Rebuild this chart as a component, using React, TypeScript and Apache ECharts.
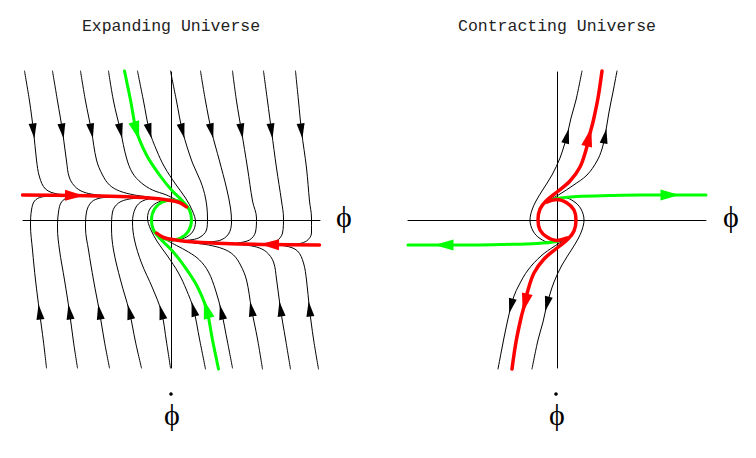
import React, { useEffect, useRef } from "react";
import * as echarts from "echarts";

// ---------- Expanding Universe (left panel): x = phi, y = phi-dot ----------
// trajectories entering from the top (arrow pointing down)
const expT1 = [[-2.94, 2.98], [-2.84, 2.38], [-2.76, 1.78], [-2.70, 1.20], [-2.64, 0.86], [-2.52, 0.62], [-2.28, 0.52], [-1.84, 0.49]];
const expT2 = [[-2.38, 2.98], [-2.28, 2.38], [-2.18, 1.78], [-2.10, 1.18], [-2.04, 0.84], [-1.90, 0.64], [-1.70, 0.54], [-1.38, 0.49]];
const expT3 = [[-1.82, 2.98], [-1.72, 2.38], [-1.60, 1.78], [-1.50, 1.20], [-1.38, 0.90], [-1.24, 0.70], [-1.04, 0.58], [-0.74, 0.50], [-0.44, 0.46]];
const expT4 = [[-1.26, 2.98], [-1.16, 2.38], [-1.02, 1.78], [-0.90, 1.24], [-0.78, 0.94], [-0.60, 0.74], [-0.38, 0.60], [-0.10, 0.50], [0.16, 0.37]];
const expT5 = [[-0.68, 2.98], [-0.56, 2.38], [-0.44, 1.78], [-0.30, 1.40], [-0.14, 1.06], [0.08, 0.72], [0.28, 0.44], [0.42, 0.18], [0.48, -0.04], [0.42, -0.24], [0.26, -0.36], [0.02, -0.42]];
const expT6 = [[-0.02, 2.98], [0.10, 2.38], [0.22, 1.78], [0.42, 1.14], [0.58, 0.78], [0.68, 0.44], [0.72, 0.04], [0.70, -0.20], [0.54, -0.36], [0.26, -0.41]];
const expT7 = [[0.58, 2.98], [0.68, 2.38], [0.80, 1.78], [0.96, 1.18], [1.10, 0.64], [1.18, 0.24], [1.20, -0.04], [1.14, -0.28], [0.96, -0.41], [0.66, -0.44]];
const expT8 = [[1.22, 2.98], [1.30, 2.38], [1.40, 1.78], [1.52, 1.04], [1.62, 0.38], [1.70, 0.04], [1.68, -0.24], [1.56, -0.40], [1.32, -0.46]];
const expT9 = [[1.84, 2.98], [1.92, 2.38], [2.00, 1.78], [2.10, 1.04], [2.20, 0.38], [2.24, 0.04], [2.22, -0.26], [2.10, -0.42], [1.86, -0.48]];
const expT10 = [[2.48, 2.98], [2.54, 2.38], [2.60, 1.78], [2.70, 1.04], [2.76, 0.38], [2.80, 0.04], [2.80, -0.26], [2.70, -0.42], [2.48, -0.49]];
// trajectories entering from the bottom (arrow pointing up)
const expB1 = [[-2.50, -2.96], [-2.56, -2.44], [-2.64, -1.84], [-2.72, -1.20], [-2.78, -0.60], [-2.82, -0.10], [-2.80, 0.20], [-2.74, 0.38], [-2.60, 0.46], [-2.34, 0.48]];
const expB2 = [[-1.88, -2.96], [-1.96, -2.44], [-2.04, -1.84], [-2.14, -1.20], [-2.24, -0.60], [-2.28, -0.16], [-2.26, 0.16], [-2.20, 0.36], [-2.04, 0.46], [-1.74, 0.48]];
const expB3 = [[-1.24, -2.96], [-1.34, -2.44], [-1.44, -1.84], [-1.56, -1.20], [-1.66, -0.60], [-1.72, -0.16], [-1.70, 0.16], [-1.60, 0.36], [-1.42, 0.44], [-1.14, 0.46]];
const expB4 = [[-0.60, -2.96], [-0.72, -2.44], [-0.84, -1.84], [-1.02, -1.20], [-1.16, -0.60], [-1.20, -0.16], [-1.18, 0.16], [-1.06, 0.34], [-0.84, 0.42], [-0.54, 0.44]];
const expB5 = [[-0.02, -2.96], [-0.10, -2.44], [-0.20, -1.84], [-0.38, -1.36], [-0.60, -0.86], [-0.74, -0.40], [-0.78, -0.04], [-0.72, 0.24], [-0.58, 0.38], [-0.34, 0.43], [-0.14, 0.42]];
const expB6 = [[0.68, -2.98], [0.56, -2.38], [0.44, -1.78], [0.30, -1.40], [0.14, -1.06], [-0.08, -0.72], [-0.28, -0.44], [-0.42, -0.18], [-0.48, 0.04], [-0.42, 0.24], [-0.26, 0.36], [-0.02, 0.42]];
const expB7 = [[1.22, -2.96], [1.12, -2.44], [1.00, -1.84], [0.88, -1.40], [0.74, -1.04], [0.56, -0.80], [0.34, -0.64], [0.10, -0.51], [-0.16, -0.37]];
const expB8 = [[1.82, -2.98], [1.72, -2.38], [1.60, -1.78], [1.50, -1.20], [1.38, -0.90], [1.24, -0.70], [1.04, -0.58], [0.74, -0.50], [0.44, -0.46]];
const expB9 = [[2.38, -2.98], [2.28, -2.38], [2.18, -1.78], [2.10, -1.18], [2.04, -0.84], [1.90, -0.64], [1.70, -0.54], [1.38, -0.49]];
const expB10 = [[2.94, -2.98], [2.84, -2.38], [2.76, -1.78], [2.70, -1.20], [2.64, -0.86], [2.52, -0.62], [2.28, -0.52], [1.84, -0.49]];
// attractor (red) and separatrices (green)
const expRedL = [[-2.98, 0.50], [-1.94, 0.49], [-1.04, 0.47], [-0.44, 0.44], [-0.08, 0.40], [0.16, 0.35], [0.30, 0.26]];
const expRedR = [[2.96, -0.50], [1.96, -0.49], [1.06, -0.47], [0.46, -0.44], [0.08, -0.40], [-0.16, -0.35], [-0.30, -0.26]];
const expGreenT = [[-0.94, 2.98], [-0.82, 2.40], [-0.70, 1.78], [-0.50, 1.30], [-0.24, 0.90], [0, 0.60], [0.22, 0.38], [0.36, 0.20], [0.40, 0], [0.34, -0.22], [0.18, -0.36], [-0.04, -0.40], [-0.24, -0.34]];
const expGreenB = [[0.94, -2.98], [0.82, -2.40], [0.70, -1.78], [0.50, -1.30], [0.24, -0.90], [0, -0.60], [-0.22, -0.38], [-0.36, -0.20], [-0.40, 0], [-0.34, 0.22], [-0.18, 0.36], [0.04, 0.40], [0.24, 0.34]];

// ---------- Contracting Universe (right panel) ----------
const conRedU = [[0.20, -0.36], [0, -0.41], [-0.20, -0.34], [-0.34, -0.20], [-0.38, 0], [-0.34, 0.22], [-0.22, 0.38], [0, 0.56], [0.26, 0.78], [0.46, 1.06], [0.58, 1.40], [0.64, 1.66], [0.72, 1.96], [0.82, 2.44], [0.90, 2.98]];
const conRedD = [[-0.20, 0.36], [0, 0.41], [0.20, 0.34], [0.34, 0.20], [0.38, 0], [0.34, -0.22], [0.22, -0.38], [0, -0.56], [-0.26, -0.78], [-0.46, -1.06], [-0.58, -1.40], [-0.64, -1.66], [-0.72, -1.96], [-0.82, -2.44], [-0.90, -2.98]];
const conGreenU = [[-0.20, 0.36], [0, 0.43], [0.40, 0.47], [1.06, 0.49], [1.66, 0.50], [2.26, 0.50], [2.98, 0.50]];
const conGreenD = [[0.20, -0.36], [0, -0.43], [-0.40, -0.47], [-1.06, -0.49], [-1.66, -0.50], [-2.26, -0.50], [-2.98, -0.50]];
const conBlackUL = [[0.12, -0.42], [-0.14, -0.45], [-0.34, -0.37], [-0.48, -0.22], [-0.54, 0], [-0.50, 0.20], [-0.42, 0.38], [-0.30, 0.58], [-0.10, 0.90], [0.06, 1.24], [0.14, 1.48], [0.20, 1.68], [0.28, 2.04], [0.38, 2.40], [0.50, 2.98]];
const conBlackLR = [[-0.12, 0.42], [0.14, 0.45], [0.34, 0.37], [0.48, 0.22], [0.54, 0], [0.50, -0.20], [0.42, -0.38], [0.30, -0.58], [0.10, -0.90], [-0.06, -1.24], [-0.14, -1.48], [-0.20, -1.68], [-0.28, -2.04], [-0.38, -2.40], [-0.50, -2.98]];
const conBlackUR = [[-0.18, 0.38], [0.06, 0.52], [0.32, 0.69], [0.60, 0.90], [0.80, 1.18], [0.90, 1.42], [0.96, 1.68], [1.04, 2.16], [1.12, 2.56], [1.20, 2.98]];
const conBlackLL = [[0.18, -0.38], [-0.06, -0.53], [-0.32, -0.72], [-0.58, -1.00], [-0.76, -1.30], [-0.86, -1.52], [-0.92, -1.72], [-1.02, -2.16], [-1.10, -2.56], [-1.18, -2.98]];

const titles = ["Expanding Universe", "Contracting Universe"];
const phiLabel = "\u03D5";

type Curve = { data: number[][]; arrowAt: number };

const expBlack: Curve[] = [
  ...[expT1, expT2, expT3, expT4, expT5, expT6, expT7, expT8, expT9, expT10].map((d) => ({ data: d, arrowAt: 2 })),
  ...[expB1, expB2, expB3, expB4, expB5, expB6, expB7, expB8, expB9, expB10].map((d) => ({ data: d, arrowAt: 2 })),
];
const expRed: Curve[] = [{ data: expRedL, arrowAt: 1 }, { data: expRedR, arrowAt: 1 }];
const expGreen: Curve[] = [{ data: expGreenT, arrowAt: 2 }, { data: expGreenB, arrowAt: 2 }];

const conBlack: Curve[] = [
  { data: conBlackUL, arrowAt: 11 },
  { data: conBlackLR, arrowAt: 11 },
  { data: conBlackUR, arrowAt: 6 },
  { data: conBlackLL, arrowAt: 6 },
];
const conRed: Curve[] = [{ data: conRedU, arrowAt: 11 }, { data: conRedD, arrowAt: 11 }];
const conGreen: Curve[] = [{ data: conGreenU, arrowAt: 5 }, { data: conGreenD, arrowAt: 5 }];

const BLACK = "#000000";
const RED = "#ff0000";
const GREEN = "#00ff00";

function panelSeries(g: number, black: Curve[], red: Curve[], green: Curve[]) {
  const line = (c: Curve, color: string, width: number, z: number) => ({
    type: "line",
    xAxisIndex: g,
    yAxisIndex: g,
    data: c.data,
    smooth: 0.35,
    symbol: "none",
    clip: false,
    silent: true,
    z,
    lineStyle: { color, width, cap: "round", join: "round" },
  });
  const arrows = (cs: Curve[], color: string, size: number[], z: number) => ({
    type: "scatter",
    xAxisIndex: g,
    yAxisIndex: g,
    symbol: "triangle",
    symbolSize: size,
    clip: false,
    silent: true,
    z,
    itemStyle: { color, opacity: 1 },
    data: cs.map((c) => {
      const a = c.data[c.arrowAt - 1];
      const b = c.data[c.arrowAt + 1];
      const ang = (Math.atan2(b[1] - a[1], b[0] - a[0]) * 180) / Math.PI - 90;
      return { value: c.data[c.arrowAt], symbolRotate: ang };
    }),
  });
  return [
    ...black.map((c) => line(c, BLACK, 1, 2)),
    ...green.map((c) => line(c, GREEN, 3, 3)),
    ...red.map((c) => line(c, RED, 3.5, 4)),
    arrows(black, BLACK, [8, 15], 5),
    arrows(green, GREEN, [11, 19], 6),
    arrows(red, RED, [11, 19], 7),
  ];
}

const axisCommon = {
  type: "value",
  axisLine: { onZero: true, lineStyle: { color: "#000", width: 1 } },
  axisTick: { show: false },
  axisLabel: { show: false },
  splitLine: { show: false },
};

export default function App() {
  const ref = useRef<HTMLDivElement>(null);
  useEffect(() => {
    if (!ref.current) return;
    const chart = echarts.init(ref.current, undefined, { renderer: "svg" });
    const text = (x: number, y: number, t: string, font: string, fill = "#000") => ({
      type: "text",
      x,
      y,
      silent: true,
      style: { text: t, font, fill, textAlign: "center", textVerticalAlign: "middle" },
    });
    // the time-derivative dot drawn above the phi glyph
    const dot = (x: number, y: number) => ({
      type: "circle",
      silent: true,
      shape: { cx: x, cy: y, r: 1.8 },
      style: { fill: "#000" },
    });
    const serif = '"Liberation Serif", "DejaVu Serif", serif';
    chart.setOption({
      animation: false,
      backgroundColor: "#ffffff",
      grid: [
        { left: 23, top: 72, width: 297, height: 296 },
        { left: 408, top: 72, width: 298, height: 296 },
      ],
      xAxis: [
        { ...axisCommon, gridIndex: 0, min: -2.97, max: 2.97 },
        { ...axisCommon, gridIndex: 1, min: -2.98, max: 2.98 },
      ],
      yAxis: [
        { ...axisCommon, gridIndex: 0, min: -2.96, max: 2.96 },
        { ...axisCommon, gridIndex: 1, min: -2.96, max: 2.96 },
      ],
      series: [
        ...panelSeries(0, expBlack, expRed, expGreen),
        ...panelSeries(1, conBlack, conRed, conGreen),
      ],
      graphic: [
        text(171, 26, titles[0], '16.5px "Liberation Mono", monospace', "#222"),
        text(557, 26, titles[1], '16.5px "Liberation Mono", monospace', "#222"),
        text(344, 216, phiLabel, "30px " + serif),
        text(731, 216, phiLabel, "30px " + serif),
        text(172, 414, phiLabel, "30px " + serif),
        dot(171, 394),
        text(557, 414, phiLabel, "30px " + serif),
        dot(556, 394),
      ],
    });
    return () => chart.dispose();
  }, []);
  return (
    <div
      ref={ref}
      style={{ position: "fixed", left: 0, top: 0, width: 756, height: 458, background: "#fff" }}
    />
  );
}
